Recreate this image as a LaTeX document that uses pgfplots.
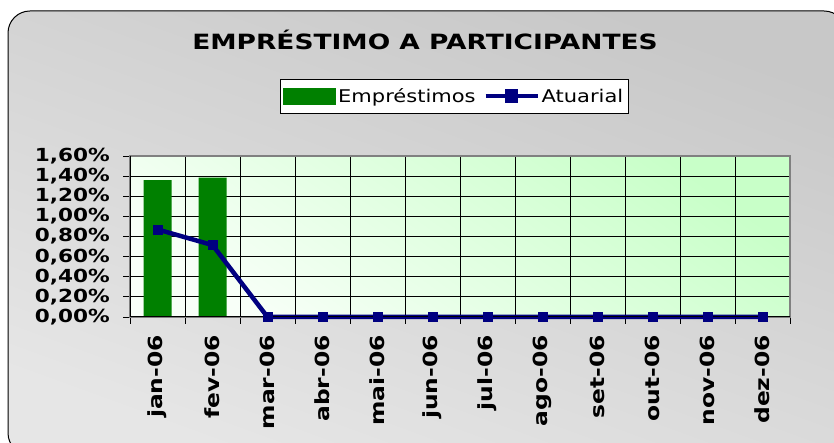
\documentclass[border=0pt]{standalone}
\usepackage{fontspec}
\setmainfont{DejaVu Sans}[FakeStretch=1.2]
\usepackage{pgfplots}
\pgfplotsset{compat=1.18}
\definecolor{bargreen}{HTML}{008000}
\definecolor{navyline}{HTML}{000080}
\definecolor{bgtop}{HTML}{C8C8C8}
\definecolor{bgbot}{HTML}{E6E6E6}
\definecolor{pgreen}{HTML}{C8FFC8}
\definecolor{pwhite}{HTML}{F8FFF8}
\begin{document}
\begin{tikzpicture}[x=1bp,y=1bp]
\useasboundingbox (0,0) rectangle (834,443);
\clip (0,0) rectangle (834,443);
\fill[white] (0,0) rectangle (834,443);
\shade[top color=bgtop, bottom color=bgbot, shading angle=-20, rounded corners=22bp] (8,-12) rectangle (846,432);
\draw[black, line width=1bp, rounded corners=22bp] (8,-12) rectangle (846,432);
\node[anchor=base, font=\bfseries\fontsize{21bp}{24bp}\selectfont, inner sep=0pt] at (425,393) {\scalebox{1.05}[1]{EMPRÉSTIMO A PARTICIPANTES}};
\begin{axis}[
  at={(130bp,126bp)}, anchor=south west,
  scale only axis, width=660bp, height=161bp,
  xmin=0.5, xmax=12.5, ymin=0, ymax=1.6,
  axis background/.style={shade, top color=pgreen, bottom color=pwhite, shading angle=-35},
  axis line style={draw=gray, line width=1.5bp},
  xtick={1,...,12},
  xticklabels={jan-06,fev-06,mar-06,abr-06,mai-06,jun-06,jul-06,ago-06,set-06,out-06,nov-06,dez-06},
  xticklabel style={rotate=90, anchor=east, font=\bfseries\fontsize{19.5bp}{22bp}\selectfont, inner sep=0pt},
  xticklabel shift=11bp,
  major x tick style={draw=none},
  minor xtick={0.5,1.5,...,12.5},
  minor x tick style={black, line width=0.8bp},
  xminorgrids=true,
  minor grid style={black, line width=0.8bp},
  ytick={0,0.2,0.4,0.6,0.8,1.0,1.2,1.4,1.6},
  yticklabels={{0,00\%},{0,20\%},{0,40\%},{0,60\%},{0,80\%},{1,00\%},{1,20\%},{1,40\%},{1,60\%}},
  yticklabel style={font=\bfseries\fontsize{18bp}{20bp}\selectfont, inner sep=0pt},
  yticklabel shift=13bp,
  ymajorgrids=true,
  major grid style={black, line width=0.8bp},
  major y tick style={black, line width=0.8bp},
  tick align=outside,
  major tick length=7bp, minor tick length=7bp,
  xtick pos=bottom, ytick pos=left,
  clip=false,
  legend columns=2,
  legend style={at={(0.227,1.478)}, anchor=north west, draw=black, line width=0.8bp, fill=white,
    font=\fontsize{17.5bp}{20bp}\selectfont, inner xsep=3bp, inner ysep=7bp,
    /tikz/every even column/.append style={column sep=6bp}},
  legend cell align=left,
]
\addplot[ybar, bar width=28bp, fill=bargreen, draw=none, bar shift=0pt,
  legend image code/.code={\fill[bargreen] (0bp,-8.5bp) rectangle (53bp,8.5bp);}]
  coordinates {(1,1.36) (2,1.385)};
\addlegendentry{Empréstimos}
\addplot[navyline, line width=4.5bp, mark=square*, mark size=4.5bp, mark options={solid, line width=0.5bp},
  legend image code/.code={\draw[navyline, line width=4bp] (0bp,0bp) -- (52bp,0bp); \fill[navyline] (21.5bp,-4.5bp) rectangle (30.5bp,4.5bp);}]
  coordinates {(1,0.87) (2,0.715) (3,0) (4,0) (5,0) (6,0) (7,0) (8,0) (9,0) (10,0) (11,0) (12,0)};
\addlegendentry{Atuarial}
\draw[black, line width=1bp] (rel axis cs:0,1) -- (rel axis cs:0,0) -- (rel axis cs:1,0);
\end{axis}
\end{tikzpicture}
\end{document}
